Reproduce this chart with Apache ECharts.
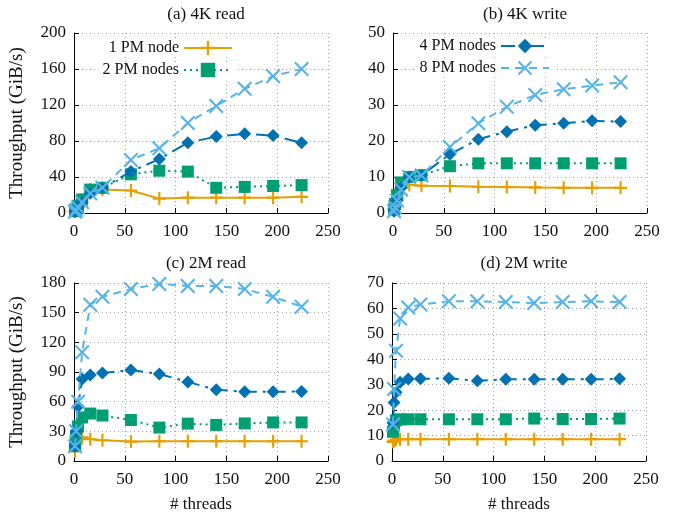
<!DOCTYPE html>
<html>
<head>
<meta charset="utf-8">
<script src="https://cdn.jsdelivr.net/npm/echarts@6/dist/echarts.min.js"></script>
<style>
  html, body { margin: 0; padding: 0; background: #fff; }
  #chart { width: 675px; height: 514px; }
</style>
</head>
<body>
<div id="chart"></div>
<script>
var threads = [1, 2, 4, 8, 16, 28, 56, 84, 112, 140, 168, 196, 224];
var seriesNames = ['1 PM node', '2 PM nodes', '4 PM nodes', '8 PM nodes'];
var panelTitles = ['(a) 4K read', '(b) 4K write', '(c) 2M read', '(d) 2M write'];
var yMax = [200, 50, 180, 70];
var yStep = [40, 10, 30, 10];

// (a) 4K read
var read4k1 = [2, 4, 8, 15, 26, 26, 25, 16, 17, 17, 17, 17, 18];
var read4k2 = [2, 4, 8, 15, 26, 28, 43, 47, 46, 28, 29, 30, 31];
var read4k4 = [1.5, 3, 6, 12, 22, 28, 46, 60, 78, 85, 88, 86, 78];
var read4k8 = [1.5, 3, 6, 12, 22, 28, 59, 72, 100, 119, 138, 152, 160];
// (b) 4K write
var write4k1 = [1, 2, 4, 7, 7.8, 7.6, 7.5, 7.3, 7.2, 7.1, 7.0, 7.0, 7.0];
var write4k2 = [1, 2.5, 5, 8.5, 10, 10.5, 13, 13.8, 13.8, 13.8, 13.8, 13.8, 13.8];
var write4k4 = [0.5, 1.5, 3.5, 7, 10, 10.5, 16.3, 20.5, 22.6, 24.4, 24.9, 25.6, 25.4];
var write4k8 = [0.5, 1.5, 3.5, 6.5, 10, 10.4, 18.3, 24.9, 29.5, 32.8, 34.4, 35.4, 36.3];
// (c) 2M read
var read2m1 = [10, 17, 22, 24, 22, 21, 19.6, 20, 20, 20, 20, 20, 20];
var read2m2 = [15, 25, 35, 44, 48, 46, 41.5, 33.8, 37.8, 36.5, 38, 39, 39];
var read2m4 = [15, 30, 55, 83, 87, 89, 92, 88, 80, 72, 70, 70, 70.3];
var read2m8 = [15, 30, 60, 110, 158, 166, 174, 179, 177, 177, 174, 166, 156];
// (d) 2M write
var write2m1 = [7.5, 8, 8.4, 8.6, 8.6, 8.6, 8.6, 8.6, 8.6, 8.6, 8.6, 8.6, 8.6];
var write2m2 = [11.5, 14, 16, 16.4, 16.4, 16.4, 16.4, 16.4, 16.4, 16.7, 16.5, 16.5, 16.7];
var write2m4 = [15, 23, 27, 31, 32.2, 32.3, 32.5, 31.6, 32.1, 32.1, 32.1, 32.1, 32.3];
var write2m8 = [14.4, 28.3, 43.4, 56, 60.4, 61.5, 62.8, 62.8, 62.5, 62.1, 62.5, 62.8, 62.5];

var panels = [
  [read4k1, read4k2, read4k4, read4k8],
  [write4k1, write4k2, write4k4, write4k8],
  [read2m1, read2m2, read2m4, read2m8],
  [write2m1, write2m2, write2m4, write2m8]
];

var font = 'Liberation Serif';
var ink = '#111';
var colors = ['#E69F00', '#009E73', '#0072B2', '#56B4E9'];
var plusPath = 'path://M-1,-6 L1,-6 L1,-1 L6,-1 L6,1 L1,1 L1,6 L-1,6 L-1,1 L-6,1 L-6,-1 L-1,-1 Z';
var crossPath = 'path://M-6,-4.8 L-4.8,-6 L0,-1.2 L4.8,-6 L6,-4.8 L1.2,0 L6,4.8 L4.8,6 L0,1.2 L-4.8,6 L-6,4.8 L-1.2,0 Z';
var symbols = [plusPath, 'rect', 'diamond', crossPath];
var symbolSizes = [13, 12, 13, 15];
var dashes = ['solid', [2, 4], [14, 6, 3, 6], [8, 6]];

var grids = [
  {left: 74, top: 33, width: 254, height: 180},
  {left: 393, top: 33, width: 254, height: 180},
  {left: 74, top: 283, width: 254, height: 181},
  {left: 392, top: 283, width: 254, height: 181}
];

var titles = panelTitles.map(function (t, i) {
  return {
    text: t,
    left: grids[i].left + grids[i].width / 2,
    textAlign: 'center',
    top: i < 2 ? 1 : 250,
    textStyle: {fontFamily: font, fontSize: 17, fontWeight: 'normal', color: ink}
  };
});

var xAxes = grids.map(function (g, i) {
  return {
    type: 'value', gridIndex: i, min: 0, max: 250, interval: 50,
    name: i >= 2 ? '# threads' : '', nameLocation: 'middle', nameGap: 35,
    nameTextStyle: {fontFamily: font, fontSize: 17, color: ink},
    axisLine: {show: true, onZero: false, lineStyle: {color: '#000', width: 1}},
    axisTick: {show: true, inside: true, length: 5, lineStyle: {color: '#000'}},
    axisLabel: {fontFamily: font, fontSize: 17, color: ink, margin: 10},
    splitLine: {show: true, lineStyle: {color: '#aaa', type: [1, 3]}}
  };
});

var yAxes = grids.map(function (g, i) {
  return {
    type: 'value', gridIndex: i, min: 0, max: yMax[i], interval: yStep[i],
    name: i % 2 === 0 ? 'Throughput (GiB/s)' : '', nameLocation: 'middle', nameGap: 47,
    nameTextStyle: {fontFamily: font, fontSize: 19, color: ink},
    axisLine: {show: true, lineStyle: {color: '#000', width: 1}},
    axisTick: {show: true, inside: true, length: 5, lineStyle: {color: '#000'}},
    axisLabel: {fontFamily: font, fontSize: 17, color: ink, margin: 8},
    splitLine: {show: true, lineStyle: {color: '#aaa', type: [1, 3]}}
  };
});

var series = [];
panels.forEach(function (vals, p) {
  vals.forEach(function (ys, k) {
    series.push({
      name: seriesNames[k],
      type: 'line',
      xAxisIndex: p, yAxisIndex: p,
      data: threads.map(function (t, j) { return [t, ys[j]]; }),
      symbol: symbols[k],
      symbolSize: symbolSizes[k],
      showAllSymbol: true,
      color: colors[k],
      itemStyle: {color: colors[k]},
      lineStyle: {color: colors[k], width: 2, type: dashes[k]},
      emphasis: {disabled: true},
      z: 2 + k,
      animation: false
    });
  });
});

// one legend box per entry, right-aligned so the texts end at the same place
function keyEntry(name, right, top) {
  return {
    data: [name], right: right, top: top,
    align: 'right', itemWidth: 48, itemHeight: 18, itemGap: 0,
    padding: [0, 4, 0, 4], backgroundColor: '#fff', selectedMode: false,
    textStyle: {fontFamily: font, fontSize: 16, color: ink}
  };
}

var option = {
  backgroundColor: '#fff',
  animation: false,
  title: titles,
  grid: grids,
  xAxis: xAxes,
  yAxis: yAxes,
  legend: [
    keyEntry('1 PM node', 438, 40),
    keyEntry('2 PM nodes', 438, 62),
    keyEntry('4 PM nodes', 121, 38),
    keyEntry('8 PM nodes', 121, 60)
  ],
  series: series
};

var myChart = echarts.init(document.getElementById('chart'));
myChart.setOption(option);
</script>
</body>
</html>
